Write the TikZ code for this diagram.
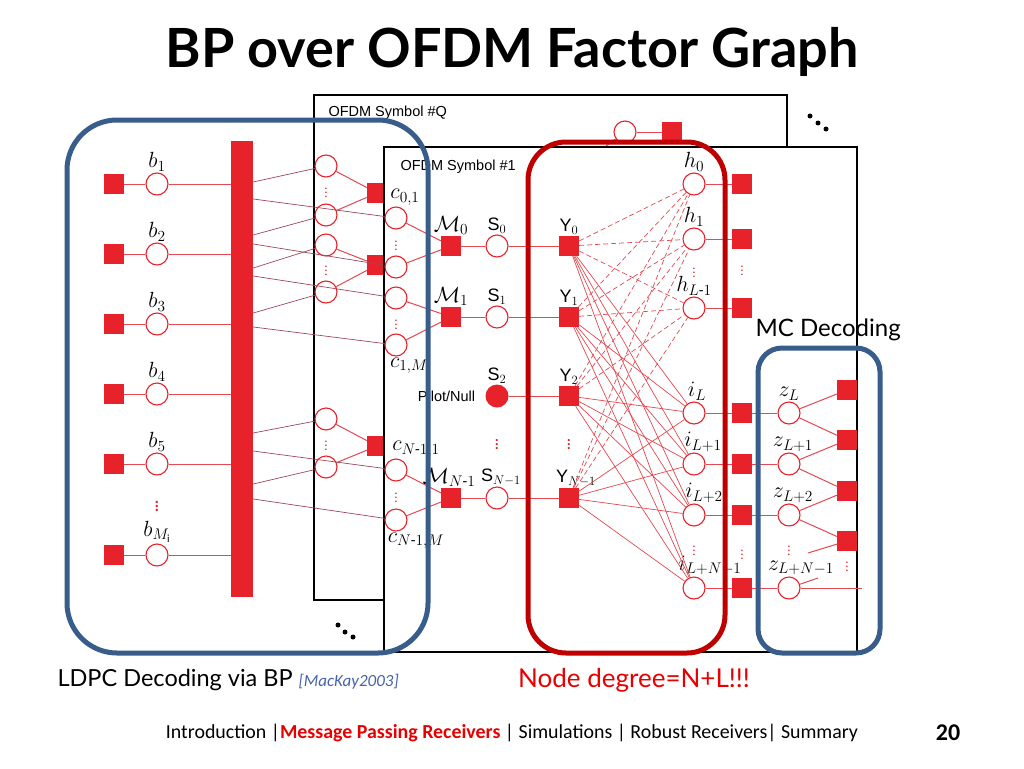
\RequirePackage{fix-cm}
\documentclass[tikz,border=0pt]{standalone}
\usepackage{amsmath}
\usepackage{fontspec}
\setmainfont{Carlito}
\newfontfamily\helv{Liberation Sans}
\newfontfamily\gill{Lato}
\definecolor{nodered}{RGB}{232,34,42}
\definecolor{wirered}{RGB}{228,72,80}
\definecolor{wirebrown}{RGB}{160,72,90}
\definecolor{ldpcblue}{RGB}{56,93,138}
\definecolor{degred}{RGB}{192,0,0}
\definecolor{refblue}{RGB}{70,100,170}
\definecolor{txtred}{RGB}{232,0,0}
\begin{document}
\begin{tikzpicture}[x=1pt, y=-1pt,
    var/.style={circle, draw=nodered, fill=white, line width=1.1pt, minimum size=22pt, inner sep=0pt},
    fac/.style={rectangle, fill=nodered, minimum size=20pt, inner sep=0pt},
    pilot/.style={circle, fill=nodered, minimum size=23pt, inner sep=0pt},
    link/.style={draw=wirered, line width=1pt},
    hint/.style={draw=wirered, line width=0.7pt, dash pattern=on 5pt off 3pt},
    fan/.style={draw=wirered, line width=0.7pt},
    feed/.style={draw=wirebrown, line width=0.7pt},
    vdot/.style={text=nodered, font=\fontsize{13}{13}\selectfont, inner sep=0pt},
    dotty/.style={circle, fill=black, inner sep=0pt, minimum size=5pt},
    symbox/.style={draw=black, fill=white, line width=1.4pt},
    region/.style={line width=5pt, rounded corners=#1},
    region/.default=45pt,
    sans/.style={font=\helv\fontsize{18}{20}\selectfont},
    every label/.style={font=\fontsize{22}{24}\selectfont, inner sep=1pt}
  ]

  \fill[white] (0,0) rectangle (1024,768);
  \useasboundingbox (0,0) rectangle (1024,768);

  \node[font=\gill\bfseries\fontsize{54}{60}\selectfont] (title) at (512,52) {BP over OFDM Factor Graph};

  % OFDM symbol #Q (behind)
  \draw[symbox] (314,95) rectangle (787,600);
  \node[anchor=west, font=\helv\fontsize{14.5}{16}\selectfont] (tq) at (325,113) {OFDM Symbol \#Q};

  \node[var] (qc1) at (326,166) {};
  \node[var] (qc2) at (326,215) {};
  \node[var] (qc3) at (326,245) {};
  \node[var] (qc4) at (326,292) {};
  \node[var] (qc5) at (326,419) {};
  \node[var] (qc6) at (326,467) {};
  \node[vdot] at (326,190) {$\vdots$};
  \node[vdot] at (326,268) {$\vdots$};
  \node[vdot] at (326,443) {$\vdots$};
  \node[fac] (qf1) at (377,193) {};
  \node[fac] (qf2) at (377,265) {};
  \node[fac] (qf3) at (377,446) {};
  \draw[link] (qc1) -- (qf1);
  \draw[link] (qc2) -- (qf1);
  \draw[link] (qc3) -- (qf2);
  \draw[link] (qc4) -- (qf2);
  \draw[link] (qc5) -- (qf3);
  \draw[link] (qc6) -- (qf3);

  \node[var] (qt) at (625,132) {};
  \node[fac] (qtf) at (672,132) {};
  \coordinate (qts) at (606,146);
  \draw[link] (qt) -- (qtf);
  \draw[link] (qts) -- (qt);

  % OFDM symbol #1
  \draw[symbox] (384,147) rectangle (857,652);
  \node[anchor=west, font=\helv\fontsize{14.5}{16}\selectfont] (t1) at (397,167) {OFDM Symbol \#1};

  \node[var, label={[xshift=9pt]above:$c_{0,1}$}] (c1) at (396,218) {};
  \node[var] (c2) at (396,267) {};
  \node[var] (c3) at (396,298) {};
  \node[var, label={[xshift=13pt]below:$c_{1,M}$}] (c4) at (396,345) {};
  \node[var, label={[xshift=20pt]above:$c_{N\text{-}1,1}$}] (c5) at (396,470) {};
  \node[var, label={[xshift=20pt]below:$c_{N\text{-}1,M}$}] (c6) at (396,520) {};
  \node[vdot] at (396,243) {$\vdots$};
  \node[vdot] at (396,322) {$\vdots$};
  \node[vdot] at (396,495) {$\vdots$};

  \node[fac, label={above:$\mathcal{M}_0$}] (m0) at (451,246) {};
  \node[fac, label={above:$\mathcal{M}_1$}] (m1) at (451,317) {};
  \node[fac, label={[xshift=-2pt]above:$\mathcal{M}_{N\text{-}1}$}] (mn) at (451,498) {};

  \node[var, label={[sans]above:S$_0$}] (s0) at (497,246) {};
  \node[var, label={[sans]above:S$_1$}] (s1) at (497,317) {};
  \node[pilot, label={[sans]above:S$_2$}, label={[font=\helv\fontsize{14.5}{16}\selectfont, xshift=-9pt]left:Pilot/Null}] (s2) at (497,396) {};
  \node[var, label={[sans, xshift=4pt]above:S$_{N-1}$}] (sn) at (497,498) {};
  \node[vdot, font=\fontsize{18}{18}\selectfont] at (497,442) {$\vdots$};

  \node[fac, label={[sans]above:Y$_0$}] (y0) at (569,246) {};
  \node[fac, label={[sans]above:Y$_1$}] (y1) at (569,317) {};
  \node[fac, label={[sans]above:Y$_2$}] (y2) at (569,396) {};
  \node[fac, label={[sans, xshift=7pt]above:Y$_{N-1}$}] (yn) at (569,498) {};
  \node[vdot, font=\fontsize{18}{18}\selectfont] at (569,442) {$\vdots$};

  \node[var, label={above:$h_0$}] (h0) at (694,184) {};
  \node[var, label={above:$h_1$}] (h1) at (694,239) {};
  \node[var, label={above:$h_{L\text{-}1}$}] (hl) at (694,308) {};
  \node[vdot] at (694,270) {$\vdots$};
  \node[fac] (fh0) at (742,184) {};
  \node[fac] (fh1) at (742,239) {};
  \node[fac] (fhl) at (742,308) {};
  \node[vdot] at (742,268) {$\vdots$};

  \node[var, label={[xshift=3pt]above:$i_L$}] (i0) at (694,413) {};
  \node[var, label={[xshift=9pt]above:$i_{L+1}$}] (i1) at (694,464) {};
  \node[var, label={[xshift=10pt]above:$i_{L+2}$}] (i2) at (694,515) {};
  \node[var, label={[xshift=16pt]above:$i_{L+N-1}$}] (i3) at (694,588) {};
  \node[vdot] at (694,548) {$\vdots$};
  \node[fac] (fi0) at (742,413) {};
  \node[fac] (fi1) at (742,464) {};
  \node[fac] (fi2) at (742,515) {};
  \node[fac] (fi3) at (742,588) {};
  \node[vdot] at (742,552) {$\vdots$};

  \node[var, label={above:$z_L$}] (z0) at (789,413) {};
  \node[var, label={[xshift=4pt]above:$z_{L+1}$}] (z1) at (789,464) {};
  \node[var, label={[xshift=4pt]above:$z_{L+2}$}] (z2) at (789,515) {};
  \node[var, label={[xshift=12pt]above:$z_{L+N-1}$}] (z3) at (789,588) {};
  \node[vdot] at (789,548) {$\vdots$};
  \node[fac] (fz0) at (847,390) {};
  \node[fac] (fz1) at (847,440) {};
  \node[fac] (fz2) at (847,491) {};
  \node[fac] (fz3) at (847,541) {};
  \node[vdot] at (847,564) {$\vdots$};
  \coordinate (zs1) at (808,553);
  \coordinate (zs2) at (818,578);
  \coordinate (zs3) at (862,588);

  \draw[link] (c1) -- (m0);
  \draw[link] (c2) -- (m0);
  \draw[link] (c3) -- (m1);
  \draw[link] (c4) -- (m1);
  \draw[link] (c5) -- (mn);
  \draw[link] (c6) -- (mn);
  \draw[link] (m0) -- (s0) -- (y0);
  \draw[link] (m1) -- (s1) -- (y1);
  \draw[link] (s2) -- (y2);
  \draw[link] (mn) -- (sn) -- (yn);

  \foreach \y in {y0,y1,y2,yn} {
    \foreach \h in {h0,h1,hl} \draw[hint] (\y) -- (\h);
    \foreach \i in {i0,i1,i2,i3} \draw[fan] (\y) -- (\i);
  }

  \draw[link] (h0) -- (fh0);
  \draw[link] (h1) -- (fh1);
  \draw[link] (hl) -- (fhl);
  \draw[link] (i0) -- (fi0) -- (z0);
  \draw[link] (i1) -- (fi1) -- (z1);
  \draw[link] (i2) -- (fi2) -- (z2);
  \draw[link] (i3) -- (fi3) -- (z3);
  \draw[link] (z0) -- (fz0);
  \draw[link] (z0) -- (fz1);
  \draw[link] (z1) -- (fz1);
  \draw[link] (z1) -- (fz2);
  \draw[link] (z2) -- (fz2);
  \draw[link] (z2) -- (fz3);
  \draw[link] (fz3) -- (zs1);
  \draw[link] (z3) -- (zs2);
  \draw[link] (z3) -- (zs3);

  % LDPC part
  \node[fac, minimum width=22pt, minimum height=456pt] (bar) at (242,369) {};
  \node[fac] (fb1) at (114,184) {};
  \node[fac] (fb2) at (114,254) {};
  \node[fac] (fb3) at (114,324) {};
  \node[fac] (fb4) at (114,394) {};
  \node[fac] (fb5) at (114,464) {};
  \node[fac] (fbm) at (114,555) {};
  \node[var, label={above:$b_1$}] (b1) at (157,184) {};
  \node[var, label={above:$b_2$}] (b2) at (157,254) {};
  \node[var, label={above:$b_3$}] (b3) at (157,324) {};
  \node[var, label={above:$b_4$}] (b4) at (157,394) {};
  \node[var, label={above:$b_5$}] (b5) at (157,464) {};
  \node[var, label={above:$b_{M_{\mathrm{i}}}$}] (bm) at (157,555) {};
  \node[vdot, font=\fontsize{20}{20}\selectfont] at (157,503) {$\vdots$};

  \draw[link] (fb1) -- (b1) -- (b1 -| bar.west);
  \draw[link] (fb2) -- (b2) -- (b2 -| bar.west);
  \draw[link] (fb3) -- (b3) -- (b3 -| bar.west);
  \draw[link] (fb4) -- (b4) -- (b4 -| bar.west);
  \draw[link] (fb5) -- (b5) -- (b5 -| bar.west);
  \draw[link] (fbm) -- (bm) -- (bm -| bar.west);

  \coordinate (e1) at (bar.east |- 0,182);
  \coordinate (e2) at (bar.east |- 0,199);
  \coordinate (e3) at (bar.east |- 0,235);
  \coordinate (e4) at (bar.east |- 0,244);
  \coordinate (e5) at (bar.east |- 0,268);
  \coordinate (e6) at (bar.east |- 0,276);
  \coordinate (e7) at (bar.east |- 0,313);
  \coordinate (e8) at (bar.east |- 0,327);
  \coordinate (e9) at (bar.east |- 0,433);
  \coordinate (e10) at (bar.east |- 0,451);
  \coordinate (e11) at (bar.east |- 0,484);
  \coordinate (e12) at (bar.east |- 0,499);
  \draw[feed] (e1) -- (qc1);
  \draw[feed] (e2) -- (c1);
  \draw[feed] (e3) -- (qc2);
  \draw[feed] (e4) -- (c2);
  \draw[feed] (e5) -- (qc3);
  \draw[feed] (e6) -- (c3);
  \draw[feed] (e7) -- (qc4);
  \draw[feed] (e8) -- (c4);
  \draw[feed] (e9) -- (qc5);
  \draw[feed] (e10) -- (c5);
  \draw[feed] (e11) -- (qc6);
  \draw[feed] (e12) -- (c6);

  \node[dotty] at (810,116) {};
  \node[dotty] at (818,123) {};
  \node[dotty] at (826,129) {};
  \node[dotty] at (338,625) {};
  \node[dotty] at (345,632) {};
  \node[dotty] at (353,637) {};

  % groups
  \draw[region=50pt, draw=ldpcblue] (67,120) rectangle (428,653);
  \draw[region=38pt, draw=degred] (528,142) rectangle (725,653);
  \draw[region=24pt, draw=ldpcblue] (758,348) rectangle (880,653);

  \node[anchor=west, font=\gill\fontsize{24}{26}\selectfont] (mc) at (752,330) {MC Decoding};
  \node[anchor=west, font=\gill\fontsize{23.5}{26}\selectfont] (ldpc) at (54,680) {LDPC Decoding via BP {\rmfamily\itshape\color{refblue}\fontsize{17}{18}\selectfont [MacKay2003]}};
  \node[font=\gill\fontsize{26}{28}\selectfont, text=txtred] (deg) at (634,680) {Node degree=N+L!!!};

  \node[font=\fontsize{19.9}{22}\selectfont] (foot) at (512,733) {Introduction |\textcolor{txtred}{\bfseries Message Passing Receivers} | Simulations | Robust Receivers| Summary};
  \node[font=\bfseries\fontsize{24}{28}\selectfont] (page) at (948,733) {20};

\end{tikzpicture}
\end{document}
